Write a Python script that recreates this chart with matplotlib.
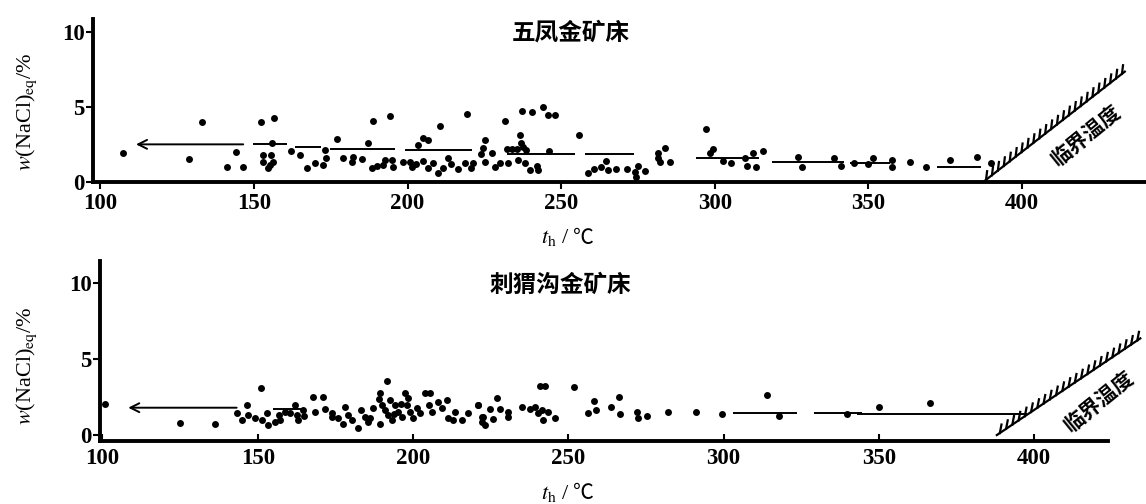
import matplotlib
matplotlib.use('Agg')
import matplotlib.pyplot as plt
import matplotlib.patheffects as pe

plt.rcParams['font.family'] = ['Liberation Serif', 'Noto Sans CJK SC', 'DejaVu Serif']
plt.rcParams['mathtext.fontset'] = 'stix'

# --- 五凤金矿床: homogenisation temperature (°C) vs salinity (wt% NaCl eq)
wf_t = [107.5, 129, 133, 141.1, 144, 146.5, 152.2, 156.5, 156,
        153, 155.7, 152.8, 156.3, 154.7, 155.2,
        162.1, 164.9, 167.3, 170, 173, 173.5, 172.4, 176.9, 178.9, 182.3, 181.8,
        185.1, 188.9, 194.3, 187.2, 188.3, 189.9, 192.1, 192.6, 195.3, 194.8,
        198.6, 200.7, 201.6, 203.4, 205, 206.8, 210.6, 219.2,
        202.9, 205, 206.7, 208.3, 209.9, 211.6, 213.2, 214.2, 216.4, 218.6, 220.7,
        231.7, 237.1, 240.6, 244, 245.8, 248, 236.6, 237, 237.5,
        232.3, 233.9, 235.5, 238.7, 245.9, 255.9,
        225.2, 224.6, 227.4, 223.8, 221.4, 225.2, 228.5, 230.1, 232.8,
        236, 238.2, 239.9, 242, 242.6,
        258.8, 260.7, 262.9, 264.7, 265.3, 268, 271.3, 274.2, 274.5, 277.2, 275,
        281.6, 283.9, 281.6, 282.1, 285.4, 297.2, 299.3, 298.6,
        302.6, 305.3, 309.7, 312.4, 315.6, 310.4, 313.4,
        327.2, 328.3, 338.9, 341.1, 345.4, 349.8, 351.4,
        357.6, 357.6, 363.5, 368.9, 376.5, 385.4, 390]
wf_w = [1.95, 1.53, 4.02, 1.02, 2.0, 1.02, 4.02, 4.29, 2.62,
        1.8, 1.8, 1.36, 1.36, 0.91, 1.13,
        2.09, 1.8, 0.91, 1.29, 2.13, 1.58, 1.13, 2.84, 1.58, 1.69, 1.36,
        1.51, 4.09, 4.42, 2.62, 0.91, 1.07, 1.13, 1.47, 0.98, 1.47,
        1.36, 1.36, 0.98, 2.47, 2.91, 2.78, 3.73, 4.51,
        1.18, 1.40, 0.96, 1.29, 0.62, 0.96, 1.62, 1.18, 0.84, 1.29, 0.96,
        4.09, 4.75, 4.69, 5.02, 4.47, 4.47, 3.13, 2.62, 2.36,
        2.2, 2.2, 2.2, 2.16, 2.09, 3.13,
        2.8, 2.27, 1.96, 1.84, 1.24, 1.31, 1.02, 1.24, 1.24,
        1.47, 1.24, 0.8, 1.09, 0.8,
        0.58, 0.87, 1.02, 1.4, 0.8, 0.87, 0.87, 0.69, 0.36, 0.76, 1.07,
        1.96, 2.24, 1.58, 1.36, 1.36, 3.51, 2.18, 1.91,
        1.42, 1.24, 1.58, 1.96, 2.09, 1.07, 0.98,
        1.69, 0.98, 1.58, 1.07, 1.29, 1.2, 1.58,
        1.47, 0.98, 1.36, 0.98, 1.47, 1.64, 1.24]
# mean salinity per temperature interval
wf_seg_t0 = [149.8, 163.5, 174.9, 199.3, 232.3, 257.9, 293.8, 318.8, 344, 372.2]
wf_seg_t1 = [160.6, 171.7, 196, 221, 254.6, 273.6, 314.4, 342.1, 357, 386.8]
wf_seg_w = [2.51, 2.36, 2.2, 2.13, 1.84, 1.84, 1.58, 1.36, 1.24, 0.98]
wf_arrow = [146.5, 111.6, 2.51]
wf_crit_t = [387.4, 433.5]
wf_crit_w = [0, 7.36]

# --- 刺猬沟金矿床
cw_t = [100.8, 125, 136.1, 151, 146.4,
        143.2, 144.8, 146.9, 149.1, 151.3, 152.9, 153.4, 155.5, 157.2, 158.8,
        160.4, 162, 162.5, 163.1, 164.7, 167.9, 171.1,
        168.4, 171.6, 173.8, 175.9, 177.5, 179.1, 180.2, 182.3, 183.4, 184.5, 185.5,
        191.5, 189.4, 188.9, 190, 191, 192.1, 193.2, 192.6, 194.2, 195.3, 196.4,
        197.5, 198.5, 198, 199.1, 200.1, 201.2, 202.3, 203.9, 205.5, 205, 206.1,
        208.2, 209.3, 210.9, 211.4, 213.6, 213, 215.7, 217.8, 221, 222.1,
        187, 194, 186, 196, 189.5, 178, 174, 165, 157,
        240.9, 242.5, 251.9, 227,
        221, 224.8, 228, 222.6, 222.1, 225.8, 223.2, 230.7, 230.7, 235, 237.7,
        239.3, 240.4, 241.5, 242, 243.6, 245.8,
        258.3, 259, 256.4, 263.9, 266.3, 266.6, 272, 272.5, 275.2, 282.2, 291,
        313.9, 299.6, 317.7, 339.7, 350.2, 366.5]
cw_w = [2.04, 0.81, 0.7, 3.07, 1.97,
        1.46, 1.0, 1.32, 1.1, 1.0, 1.46, 0.66, 0.88, 1.0, 1.54,
        1.46, 1.97, 1.32, 1.0, 1.64, 2.52, 2.52,
        1.54, 1.69, 1.42, 1.1, 0.75, 1.32, 1.0, 0.44, 1.65, 1.21, 0.88,
        3.57, 2.74, 2.35, 1.97, 1.64, 1.32, 0.99, 2.3, 1.97, 1.54, 1.21,
        2.74, 2.41, 1.97, 1.54, 1.1, 1.75, 1.43, 2.74, 2.74, 1.97, 1.54,
        2.19, 1.75, 2.3, 1.1, 1.54, 0.99, 0.99, 1.43, 1.97, 1.21,
        1.8, 1.4, 1.1, 2.05, 0.75, 1.85, 1.2, 1.25, 1.35,
        3.22, 3.22, 3.18, 2.41,
        1.97, 1.69, 1.69, 1.21, 0.88, 1.03, 0.66, 1.54, 1.21, 1.82, 1.69,
        1.86, 1.43, 1.64, 0.99, 1.54, 1.1,
        2.26, 1.64, 1.43, 1.82, 2.52, 1.38, 1.54, 1.1, 1.25, 1.49, 1.49,
        2.63, 1.38, 1.27, 1.38, 1.82, 2.08]
cw_seg_t0 = [155, 303.1, 329, 343]
cw_seg_t1 = [165, 323.5, 344.6, 397.6]
cw_seg_w = [1.7, 1.47, 1.43, 1.36]
cw_arrow = [143.2, 108.3, 1.8]
cw_crit_t = [388, 434.2]
cw_crit_w = [0, 6.36]

W, H = 1146, 504
fig = plt.figure(figsize=(W / 100, H / 100), dpi=100)
ax1 = fig.add_axes([93 / W, 1 - 182 / H, (W - 93) / W, 163 / H])
ax2 = fig.add_axes([100 / W, 1 - 441 / H, 1008 / W, 180 / H])

cjk = ['Noto Sans CJK SC', 'DejaVu Sans']


def draw(ax, t, w, s0, s1, sw, arrow, ct, cw, xlim, ylim, tickdir, lab_xy):
    ax.plot(t, w, 'o', color='k', ms=5, mew=0)
    ax.hlines(sw, s0, s1, color='k', lw=1.4)
    ax.annotate('', xy=(arrow[1], arrow[2]), xytext=(arrow[0], arrow[2]),
                arrowprops=dict(arrowstyle='->', lw=1.4, color='k',
                                mutation_scale=16, shrinkA=0, shrinkB=0))
    ax.plot(ct, cw, color='k', lw=1.6, clip_on=False,
            path_effects=[pe.withTickedStroke(angle=45, spacing=5.2, length=1.2)])
    ax.text(lab_xy[0], lab_xy[1], '临界温度', rotation=39, ha='center', va='center',
            family=cjk, fontweight='bold', fontsize=15, rotation_mode='anchor')
    ax.set_xlim(*xlim)
    ax.set_ylim(*ylim)
    ax.set_xticks([100, 150, 200, 250, 300, 350, 400])
    ax.set_yticks([0, 5, 10])
    for s in ['top', 'right']:
        ax.spines[s].set_visible(False)
    for s in ['left', 'bottom']:
        ax.spines[s].set_linewidth(2.8)
    ax.tick_params(axis='y', direction='out', length=5, width=1.5, labelsize=16.5, pad=1)
    ax.tick_params(axis='x', direction=tickdir, length=5, width=1.5, labelsize=16.5,
                   pad=3 if tickdir == 'out' else 5)
    for lab in ax.get_xticklabels() + ax.get_yticklabels():
        lab.set_fontweight('bold')
    ax.patch.set_alpha(0)


draw(ax1, wf_t, wf_w, wf_seg_t0, wf_seg_t1, wf_seg_w, wf_arrow, wf_crit_t, wf_crit_w,
     (97.6, 440.4), (0, 10.87), 'out', (421, 3.1))
draw(ax2, cw_t, cw_w, cw_seg_t0, cw_seg_t1, cw_seg_w, cw_arrow, cw_crit_t, cw_crit_w,
     (99.2, 423.8), (-0.39, 11.45), 'in', (421, 2.2))

fig.text(571 / W, 1 - 32 / H, '五凤金矿床', ha='center', va='center', family=cjk,
         fontweight='bold', fontsize=17)
fig.text(560 / W, 1 - 285 / H, '刺猬沟金矿床', ha='center', va='center', family=cjk,
         fontweight='bold', fontsize=17)

ylab = r'$w$(NaCl)$_{\rm eq}$/%'
fig.text(27 / W, 1 - 112 / H, ylab, rotation=90, ha='center', va='center', fontsize=16)
fig.text(27 / W, 1 - 366 / H, ylab, rotation=90, ha='center', va='center', fontsize=16)

# x label: math part plus the degree-Celsius sign from the CJK font
for yy in (238, 493):
    fig.text(570 / W, 1 - yy / H, r'$t_{\rm h}$ /', ha='right', va='center', fontsize=16)
    fig.text(573 / W, 1 - yy / H, '℃', ha='left', va='center', fontsize=15,
             family=cjk)

fig.savefig('out.png', dpi=100)
